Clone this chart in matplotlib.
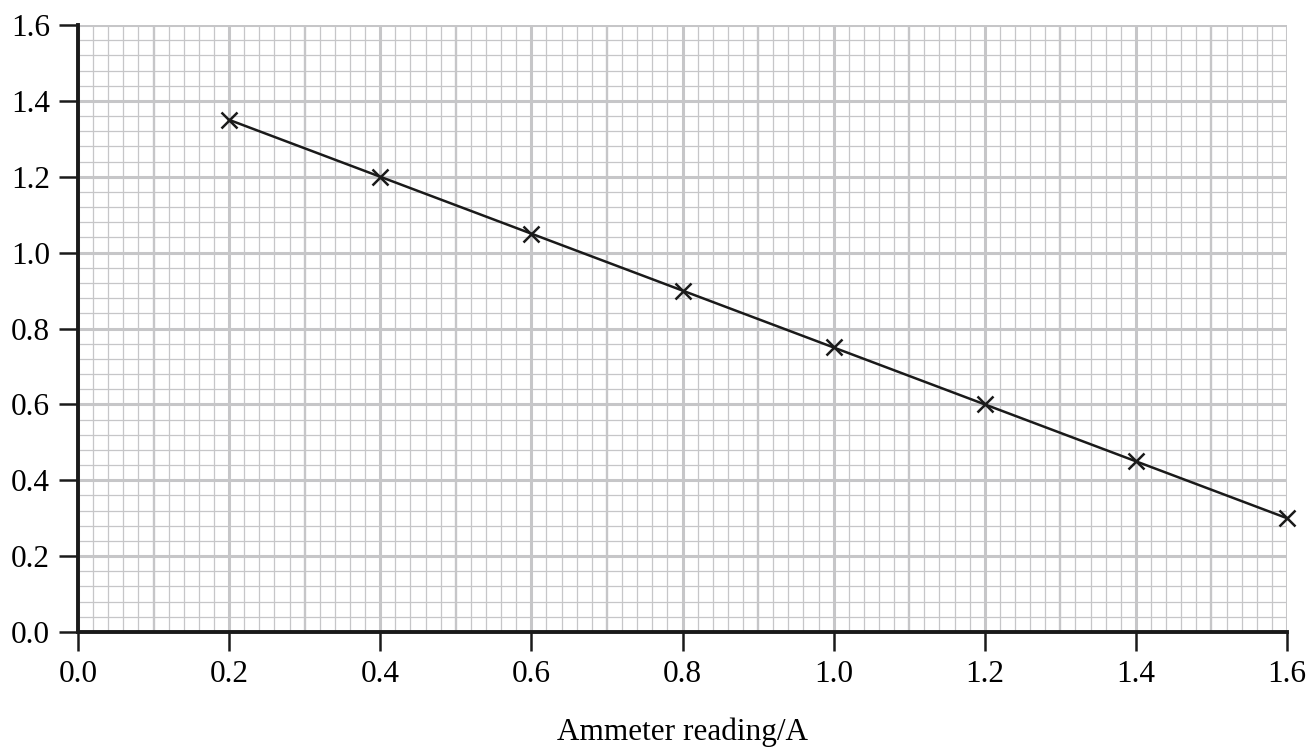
import numpy as np
from matplotlib import pyplot as plt

current = [0.2, 0.4, 0.6, 0.8, 1.0, 1.2, 1.4, 1.6]
voltage = [1.35, 1.20, 1.05, 0.90, 0.75, 0.60, 0.45, 0.30]
ticks = [0.0, 0.2, 0.4, 0.6, 0.8, 1.0, 1.2, 1.4, 1.6]
tick_labels = ["0.0", "0.2", "0.4", "0.6", "0.8", "1.0", "1.2", "1.4", "1.6"]

plt.rcParams['font.family'] = ['Liberation Serif', 'DejaVu Serif']

fig = plt.figure(figsize=(13.11, 7.49), dpi=100)
ax = fig.add_axes([0.0595, 0.1562, 0.9222, 0.8104])
ax.set_xlim(0, 1.6)
ax.set_ylim(0, 1.6)

grey = '#c6c6c8'
# graph paper: vertical lines every 0.02 (heavier at 0.1 and 0.2)
for k in range(81):
    v = k * 0.02
    if k % 10 == 0:
        lw = 2.2
    elif k % 5 == 0:
        lw = 1.7
    else:
        lw = 0.9
    ax.axvline(v, color=grey, lw=lw, zorder=0)

# horizontal lines every 0.04 (heavier at 0.2)
for k in range(41):
    v = k * 0.04
    lw = 2.2 if k % 5 == 0 else 0.9
    ax.axhline(v, color=grey, lw=lw, zorder=0)

ax.plot(current, voltage, color='#1a1a1a', lw=1.8, marker='x',
        markersize=11, markeredgewidth=1.8, zorder=3, clip_on=False)

for side in ['top', 'right']:
    ax.spines[side].set_visible(False)
for side in ['left', 'bottom']:
    ax.spines[side].set_linewidth(2.8)
    ax.spines[side].set_color('#1a1a1a')
    ax.spines[side].set_zorder(4)

ax.set_xticks(ticks)
ax.set_xticklabels(tick_labels)
ax.set_yticks(ticks)
ax.set_yticklabels(tick_labels)
ax.tick_params(axis='both', direction='out', length=14, width=1.8,
               color='#1a1a1a', labelsize=22.5, pad=6)

ax.set_xlabel("Ammeter reading/A", fontsize=22.5, va='baseline')
ax.xaxis.set_label_coords(0.5, -0.178)

plt.savefig("out.png", dpi=100)
